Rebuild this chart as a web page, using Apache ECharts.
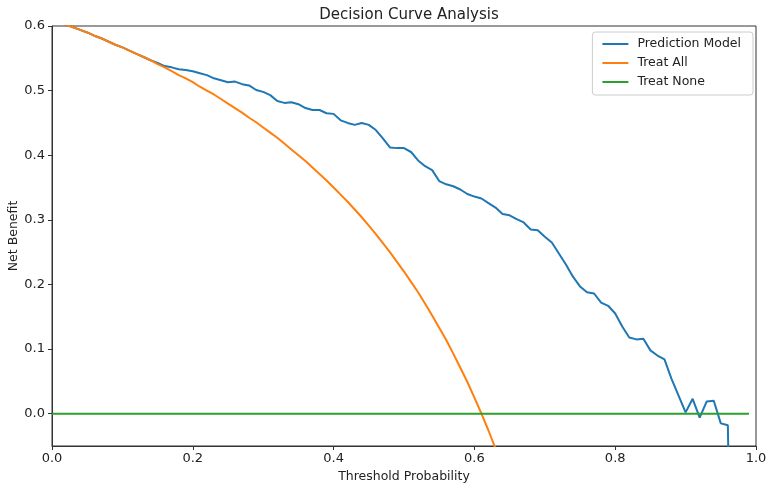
<!DOCTYPE html>
<html><head><meta charset="utf-8">
<script src="https://cdn.jsdelivr.net/npm/echarts@6/dist/echarts.min.js"></script>
<style>html,body{margin:0;padding:0;background:#fff}#c{width:767px;height:488px}</style>
</head><body><div id="c"></div>
<script>
const thresholds = [0.00,0.01,0.02,0.03,0.04,0.05,0.06,0.07,0.08,0.09,0.10,0.11,0.12,0.13,0.14,0.15,0.16,0.17,0.18,0.19,0.20,0.21,0.22,0.23,0.24,0.25,0.26,0.27,0.28,0.29,0.30,0.31,0.32,0.33,0.34,0.35,0.36,0.37,0.38,0.39,0.40,0.41,0.42,0.43,0.44,0.45,0.46,0.47,0.48,0.49,0.50,0.51,0.52,0.53,0.54,0.55,0.56,0.57,0.58,0.59,0.60,0.61,0.62,0.63,0.64,0.65,0.66,0.67,0.68,0.69,0.70,0.71,0.72,0.73,0.74,0.75,0.76,0.77,0.78,0.79,0.80,0.81,0.82,0.83,0.84,0.85,0.86,0.87,0.88,0.89,0.90,0.91,0.92,0.93,0.94,0.95,0.96,0.97,0.98,0.99];
const modelValues = [0.610,0.606,0.602,0.598,0.594,0.590,0.585,0.581,0.576,0.571,0.567,0.562,0.557,0.552,0.547,0.543,0.538,0.536,0.533,0.532,0.530,0.527,0.524,0.519,0.516,0.513,0.514,0.510,0.508,0.501,0.498,0.493,0.484,0.481,0.482,0.479,0.473,0.470,0.470,0.465,0.464,0.454,0.450,0.447,0.450,0.447,0.439,0.426,0.412,0.411,0.411,0.405,0.392,0.383,0.377,0.360,0.355,0.352,0.347,0.340,0.336,0.333,0.326,0.319,0.309,0.307,0.301,0.296,0.285,0.284,0.274,0.265,0.248,0.231,0.212,0.197,0.188,0.186,0.172,0.167,0.155,0.135,0.118,0.115,0.116,0.098,0.090,0.084,0.054,0.028,0.002,0.023,-0.006,0.019,0.020,-0.015,-0.018,-0.600];
const treatAllValues = [0.610,0.606,0.602,0.598,0.594,0.590,0.585,0.581,0.576,0.571,0.567,0.562,0.557,0.552,0.547,0.541,0.536,0.530,0.524,0.519,0.513,0.506,0.500,0.494,0.487,0.480,0.473,0.466,0.458,0.451,0.443,0.435,0.427,0.418,0.409,0.400,0.391,0.381,0.371,0.361,0.350,0.339,0.328,0.316,0.304,0.291,0.278,0.264,0.250,0.235,0.220,0.204,0.188,0.170,0.152,0.133,0.114,0.093,0.071,0.049,0.025,0.000,-0.026,-0.054,-0.083];
const treatNoneValues = thresholds.map(() => 0);
const xTicks = [0,0.2,0.4,0.6,0.8,1.0];
const yTicks = [0,0.1,0.2,0.3,0.4,0.5,0.6];
const seriesNames = ['Prediction Model','Treat All','Treat None'];

const pairs = (vals) => vals.map((v,i) => [thresholds[i], v]);
const font = 'DejaVu Sans';
const chart = echarts.init(document.getElementById('c'), null, {renderer:'canvas'});
chart.setOption({
  animation:false,
  backgroundColor:'#fff',
  title:{text:'Decision Curve Analysis', left:404, top:3, textAlign:'center',
    textStyle:{fontFamily:font, fontSize:15, fontWeight:'normal', color:'#222'}},
  legend:{orient:'vertical', right:14, top:32, itemWidth:26, itemHeight:2, itemGap:5,
    icon:'rect', padding:[5,12,6,10], borderColor:'#ccc', borderWidth:1, borderRadius:3,
    backgroundColor:'rgba(255,255,255,0.8)',
    data:seriesNames, textStyle:{fontFamily:font, fontSize:12.5, color:'#222', lineHeight:14, padding:[0,0,0,4]}},
  grid:{left:52, right:11, top:26, bottom:42, outerBoundsMode:'none', containLabel:false,
    show:true, borderColor:'#333', borderWidth:1, backgroundColor:'transparent'},
  xAxis:{type:'value', min:0, max:1, interval:0.2,
    name:'Threshold Probability', nameLocation:'middle', nameGap:24, nameMoveOverlap:false,
    nameTextStyle:{fontFamily:font, fontSize:12.5, color:'#222'},
    axisLine:{show:true, onZero:false, lineStyle:{color:'#333', width:1}},
    axisTick:{show:true, length:4, lineStyle:{color:'#333'}},
    axisLabel:{fontFamily:font, fontSize:13, color:'#222', margin:6, formatter:v=>v.toFixed(1), customValues:xTicks},
    splitLine:{show:false}},
  yAxis:{type:'value', min:-0.05, max:0.6,
    name:'Net Benefit', nameLocation:'middle', nameGap:32, nameRotate:90, nameMoveOverlap:false,
    nameTextStyle:{fontFamily:font, fontSize:12.5, color:'#222'},
    axisLine:{show:true, onZero:false, lineStyle:{color:'#333', width:1}},
    axisTick:{show:true, length:4, lineStyle:{color:'#333'}, customValues:yTicks},
    axisLabel:{fontFamily:font, fontSize:13, color:'#222', margin:7, formatter:v=>v.toFixed(1), customValues:yTicks},
    splitLine:{show:false}},
  series:[
    {name:seriesNames[0], type:'line', data:pairs(modelValues), symbol:'none', clip:true,
      lineStyle:{color:'#1f77b4', width:2}, itemStyle:{color:'#1f77b4'}, z:2},
    {name:seriesNames[1], type:'line', data:pairs(treatAllValues), symbol:'none', clip:true,
      lineStyle:{color:'#ff7f0e', width:2}, itemStyle:{color:'#ff7f0e'}, z:3},
    {name:seriesNames[2], type:'line', data:pairs(treatNoneValues), symbol:'none', clip:true,
      lineStyle:{color:'#2ca02c', width:2}, itemStyle:{color:'#2ca02c'}, z:4}
  ]
});
</script></body></html>
